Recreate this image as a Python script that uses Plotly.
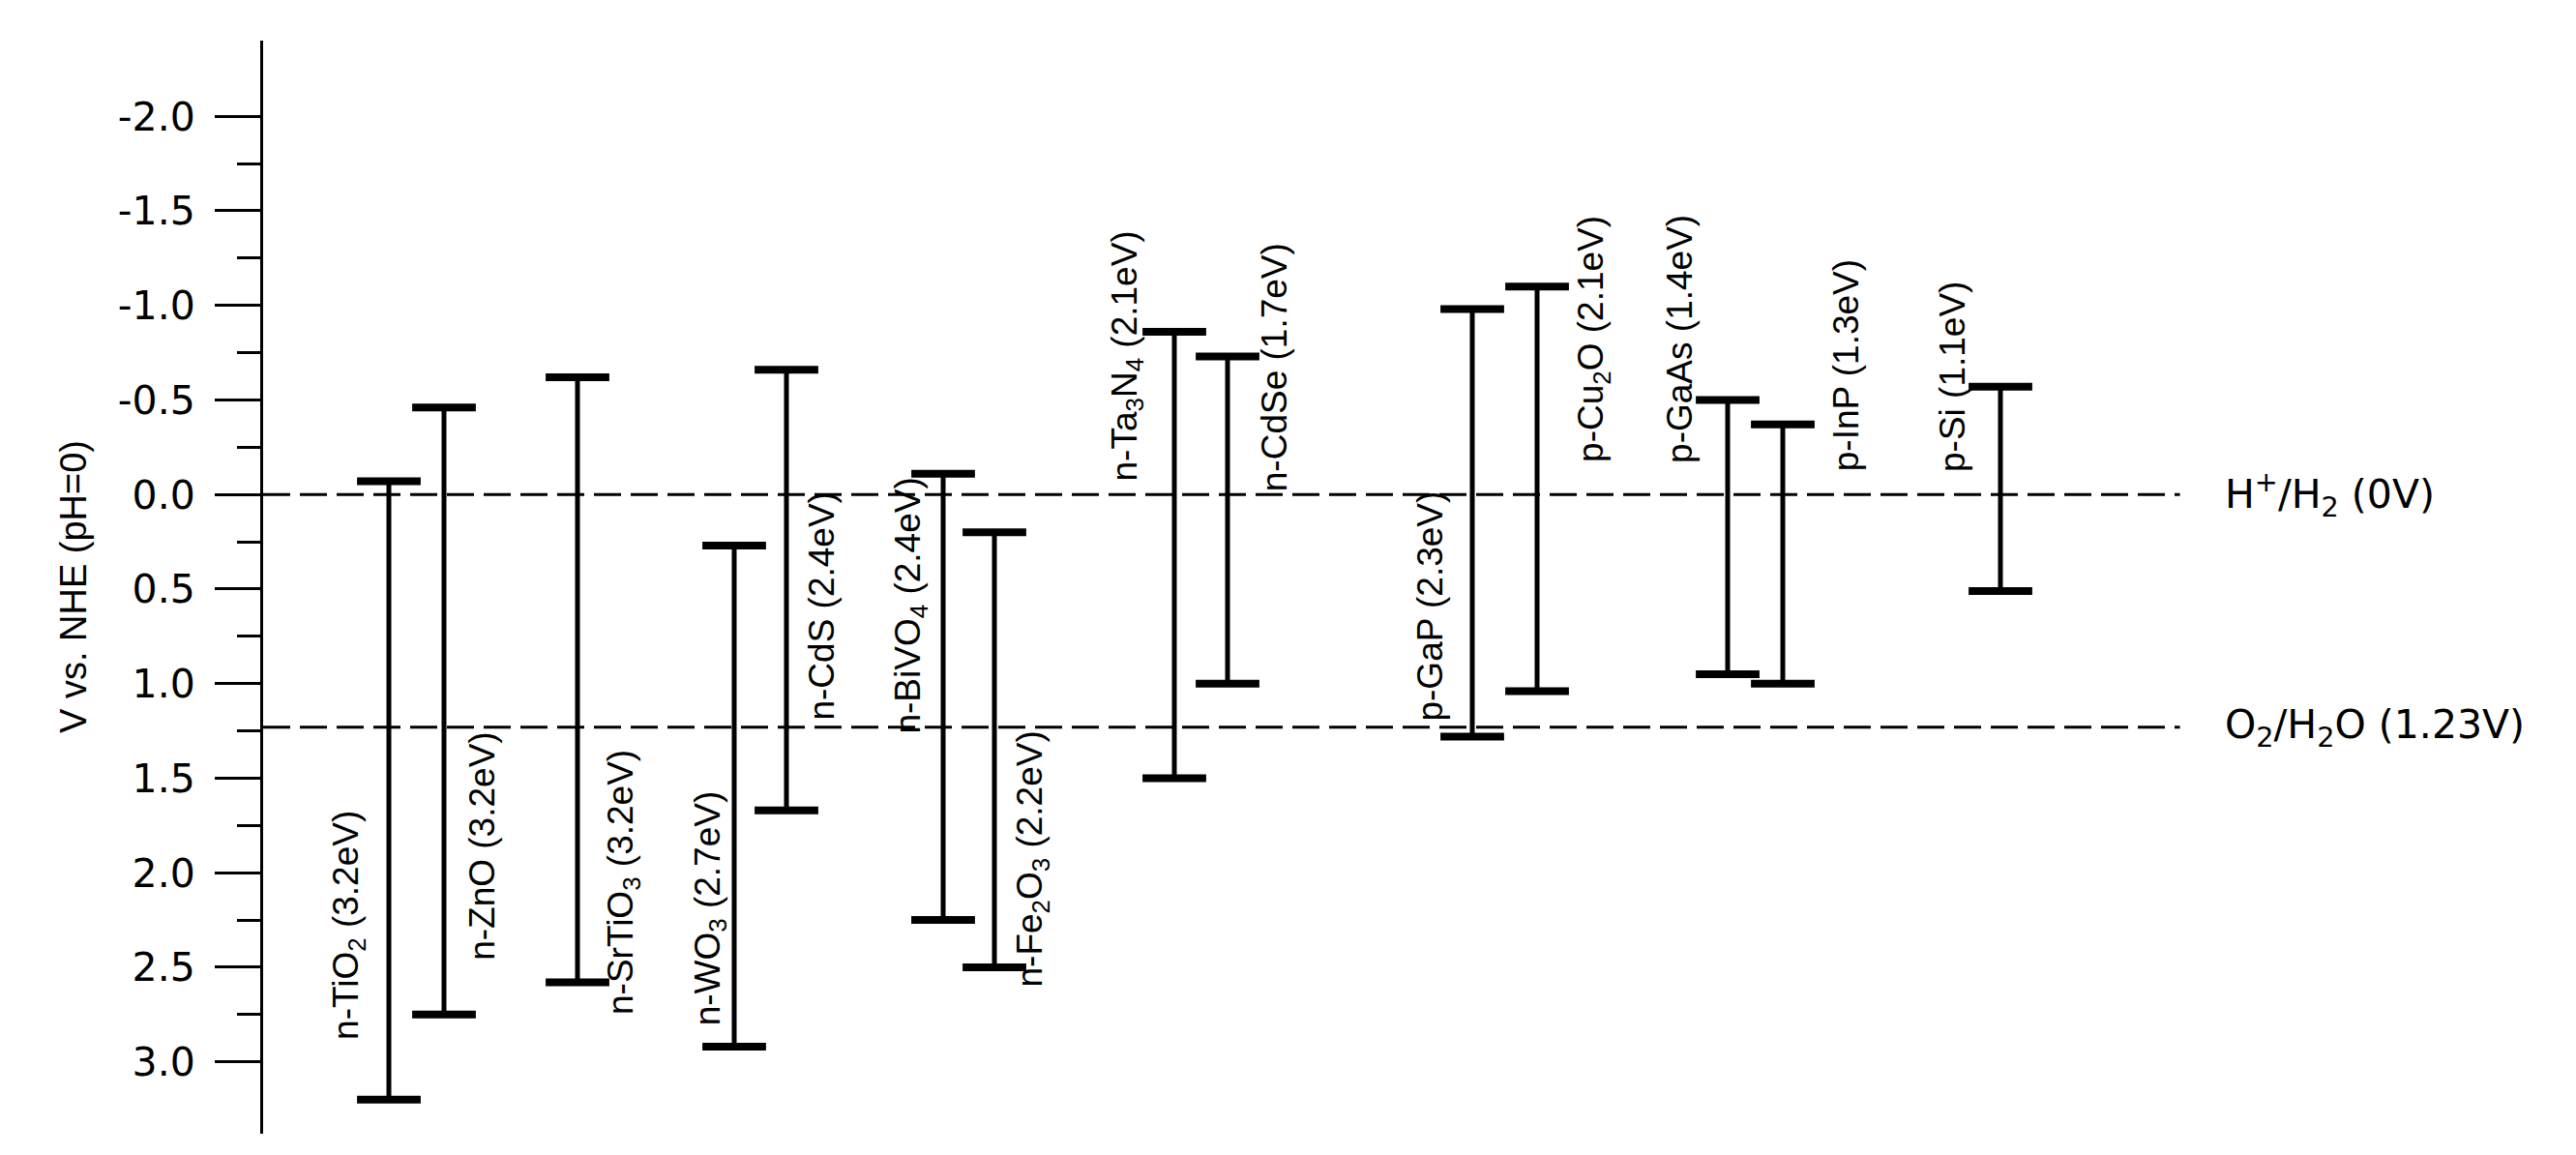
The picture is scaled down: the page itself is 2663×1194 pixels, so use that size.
import plotly.graph_objects as go

# Band edges vs NHE (pH=0); top = conduction band, bottom = valence band
materials = ["n-TiO<sub>2</sub>", "n-ZnO", "n-SrTiO<sub>3</sub>", "n-WO<sub>3</sub>", "n-CdS",
             "n-BiVO<sub>4</sub>", "n-Fe<sub>2</sub>O<sub>3</sub>", "n-Ta<sub>3</sub>N<sub>4</sub>",
             "n-CdSe", "p-GaP", "p-Cu<sub>2</sub>O", "p-GaAs", "p-InP", "p-Si"]
band_gap = [3.2, 3.2, 3.2, 2.7, 2.4, 2.4, 2.2, 2.1, 1.7, 2.3, 2.1, 1.4, 1.3, 1.1]
cb_edge = [-0.07, -0.46, -0.62, 0.27, -0.66, -0.11, 0.20, -0.86, -0.73, -0.98, -1.10, -0.50, -0.37, -0.57]
vb_edge = [3.20, 2.75, 2.58, 2.92, 1.67, 2.25, 2.50, 1.50, 1.00, 1.28, 1.04, 0.95, 1.00, 0.51]
# horizontal slot of each bar (irregular spacing as in the figure)
slot = [1.30, 1.87, 3.25, 4.87, 5.41, 7.03, 7.56, 9.42, 9.97, 12.50, 13.17, 15.14, 15.71, 17.96]

redox_levels = [0.0, 1.23]
redox_labels = ["H<sup>+</sup>/H<sub>2</sub> (0V)", "O<sub>2</sub>/H<sub>2</sub>O (1.23V)"]

major_ticks = [-2.0, -1.5, -1.0, -0.5, 0.0, 0.5, 1.0, 1.5, 2.0, 2.5, 3.0]
minor_ticks = [-1.75, -1.25, -0.75, -0.25, 0.25, 0.75, 1.25, 1.75, 2.25, 2.75]

# label placement (offset from bar, and where along the bar the label is centred)
label_dx = [-0.42, 0.40, 0.47, -0.25, 0.37, -0.34, 0.39, -0.49, 0.48, -0.43, 0.58, -0.49, 0.65, -0.49]
label_mid = [2.28, 1.86, 2.05, 2.19, 0.59, 0.59, 1.93, -0.73, -0.67, 0.59, -0.82, -0.82, -0.68, -0.62]

NARROW = "Liberation Sans, Arial, sans-serif"
WIDE = "DejaVu Sans, Liberation Sans, sans-serif"

fig = go.Figure()

# stems
sx, sy = [], []
for x, t, b in zip(slot, cb_edge, vb_edge):
  sx += [x, x, None]
  sy += [t, b, None]
fig.add_trace(go.Scatter(x=sx, y=sy, mode='lines', line=dict(color='black', width=5),
                         showlegend=False, hoverinfo='skip'))
# caps
fig.add_trace(go.Scatter(x=slot + slot, y=cb_edge + vb_edge, mode='markers',
                         marker=dict(symbol='line-ew', size=47, line=dict(color='black', width=8)),
                         showlegend=False, hoverinfo='skip'))

for lvl in redox_levels:
  fig.add_shape(type='line', xref='paper', x0=0, x1=0.826, yref='y', y0=lvl, y1=lvl,
                line=dict(color='black', width=3, dash='28px,10px'), layer='below')

annotations = []
for name, gap, x, dx, ym in zip(materials, band_gap, slot, label_dx, label_mid):
  annotations.append(dict(x=x + dx, y=ym, xref='x', yref='y', text=f"{name} ({gap}eV)",
                          textangle=-90, showarrow=False, xanchor='center', yanchor='middle',
                          font=dict(family=NARROW, size=37, color='black')))
for lvl, txt in zip(redox_levels, redox_labels):
  annotations.append(dict(x=20.26, y=lvl, xref='x', yref='y', text=txt, showarrow=False,
                          xanchor='left', yanchor='middle',
                          font=dict(family=WIDE, size=41, color='black')))
annotations.append(dict(x=0, y=0.5, xref='paper', yref='paper', xshift=-196, text="V vs. NHE (pH=0)",
                        textangle=-90, showarrow=False, xanchor='center', yanchor='middle',
                        font=dict(family=NARROW, size=38, color='black')))

fig.update_layout(
  width=2663, height=1194,
  margin=dict(l=264, r=0, t=34, b=30),
  paper_bgcolor='white', plot_bgcolor='white',
  showlegend=False,
  annotations=annotations,
  xaxis=dict(visible=False, range=[0, 23.99]),
  yaxis=dict(
    range=[3.38, -2.40],
    showgrid=False, zeroline=False,
    showline=True, linecolor='black', linewidth=3,
    ticks='outside', ticklen=47, tickwidth=3, tickcolor='black',
    tickmode='array', tickvals=major_ticks, ticktext=[f"{v:.1f}" for v in major_ticks],
    tickfont=dict(family=WIDE, size=41, color='black'),
    ticklabelstandoff=12,
    minor=dict(tickmode='array', tickvals=minor_ticks, ticks='outside', ticklen=24,
               tickwidth=3, tickcolor='black', showgrid=False),
  ),
)

fig.write_html("out.html")
